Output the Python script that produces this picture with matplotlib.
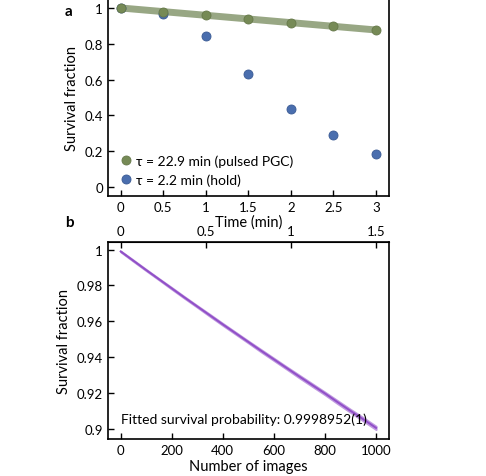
import numpy as np
import matplotlib
matplotlib.use("Agg")
import matplotlib.pyplot as plt
from matplotlib.ticker import FormatStrFormatter

plt.rcParams['font.family'] = ['Lato', 'DejaVu Sans']
plt.rcParams['font.size'] = 9.5

# -------------------------
# PANEL A DATA
# -------------------------
time_min = [0, 0.5, 1, 1.5, 2, 2.5, 3]
pgc_surv = [1.0, 0.977, 0.958, 0.936, 0.918, 0.898, 0.878]
hold_surv = [1.0, 0.969, 0.845, 0.631, 0.437, 0.288, 0.186]
fit_time = [0, 3]
fit_pgc = [1.0, 0.877]

# -------------------------
# PANEL B DATA
# -------------------------
n_images = [0, 50, 100, 150, 200, 250, 300, 350, 400, 450, 500,
            550, 600, 650, 700, 750, 800, 850, 900, 950, 1000]
surv_b = [0.9990, 0.9938, 0.9886, 0.9835, 0.9784, 0.9733, 0.9683, 0.9633,
          0.9583, 0.9534, 0.9485, 0.9436, 0.9388, 0.9340, 0.9292, 0.9245,
          0.9198, 0.9149, 0.9101, 0.9054, 0.9006]
band_b = [0.0002, 0.0003, 0.0003, 0.0003, 0.0004, 0.0004, 0.0004, 0.0005,
          0.0005, 0.0005, 0.0005, 0.0006, 0.0006, 0.0006, 0.0007, 0.0007,
          0.0007, 0.0008, 0.0008, 0.0009, 0.0009]

fig = plt.figure(figsize=(4.86, 4.77), dpi=100)

# ---- panel a ----
ax1 = fig.add_axes([0.222, 0.587, 0.578, 0.413])
ax1.plot(fit_time, fit_pgc, color='#98a784', lw=5, solid_capstyle='butt', zorder=1)
ax1.plot(time_min, hold_surv, 'o', ms=6.5, color='#4a6eae', mec='#3a5a94', mew=0.6,
         label=u'\u03c4 = 2.2 min (hold)', zorder=2)
ax1.plot(time_min, pgc_surv, 'o', ms=6.5, color='#768a56', mec='#66794a', mew=0.6,
         label=u'\u03c4 = 22.9 min (pulsed PGC)', zorder=3)
ax1.set_xlim(-0.15, 3.15)
ax1.set_ylim(-0.05, 1.05)
ax1.set_xticks([0, 0.5, 1, 1.5, 2, 2.5, 3])
ax1.set_yticks([0, 0.2, 0.4, 0.6, 0.8, 1])
ax1.xaxis.set_major_formatter(FormatStrFormatter('%g'))
ax1.yaxis.set_major_formatter(FormatStrFormatter('%g'))
ax1.tick_params(direction='in', length=4, width=1)
ax1.set_xlabel('Time (min)', fontsize=10.5, labelpad=1)
ax1.set_ylabel('Survival fraction', fontsize=10.5, labelpad=4)
h, l = ax1.get_legend_handles_labels()
ax1.legend(h[::-1], l[::-1], loc='lower left', frameon=False, handletextpad=0.1,
           borderaxespad=0.3, labelspacing=0.5, fontsize=10, handlelength=1.2)
for s in ax1.spines.values():
    s.set_linewidth(1.2)
ax1.spines['top'].set_visible(False)

# ---- panel b ----
ax2 = fig.add_axes([0.222, 0.0776, 0.578, 0.4124])
lo = np.array(surv_b) - np.array(band_b)
hi = np.array(surv_b) + np.array(band_b)
ax2.fill_between(n_images, lo, hi, color='#c09ae0', lw=1.5, edgecolor='#c09ae0', zorder=1)
ax2.plot(n_images, surv_b, color='#9150c8', lw=1.4, zorder=2)
ax2.set_xlim(-50, 1050)
ax2.set_ylim(0.8944, 1.0041)
ax2.set_xticks([0, 200, 400, 600, 800, 1000])
ax2.set_yticks([0.9, 0.92, 0.94, 0.96, 0.98, 1])
ax2.yaxis.set_major_formatter(FormatStrFormatter('%g'))
ax2.tick_params(direction='in', length=4, width=1)
ax2.set_xlabel('Number of images', fontsize=10.5, labelpad=2)
ax2.set_ylabel('Survival fraction', fontsize=10.5, labelpad=4)
ax2.text(0, 0.9035, 'Fitted survival probability: 0.9998952(1)', fontsize=10)
for s in ax2.spines.values():
    s.set_linewidth(1.2)

sec = ax2.secondary_xaxis('top', functions=(lambda x: x * 0.0015, lambda x: x / 0.0015))
sec.set_xticks([0, 0.5, 1, 1.5])
sec.xaxis.set_major_formatter(FormatStrFormatter('%g'))
sec.tick_params(direction='in', length=4, width=1)

fig.text(0.134, 0.99, 'a', fontsize=11, fontweight='bold', va='top')
fig.text(0.134, 0.548, 'b', fontsize=11, fontweight='bold', va='top')

fig.savefig('out.png', dpi=100)
